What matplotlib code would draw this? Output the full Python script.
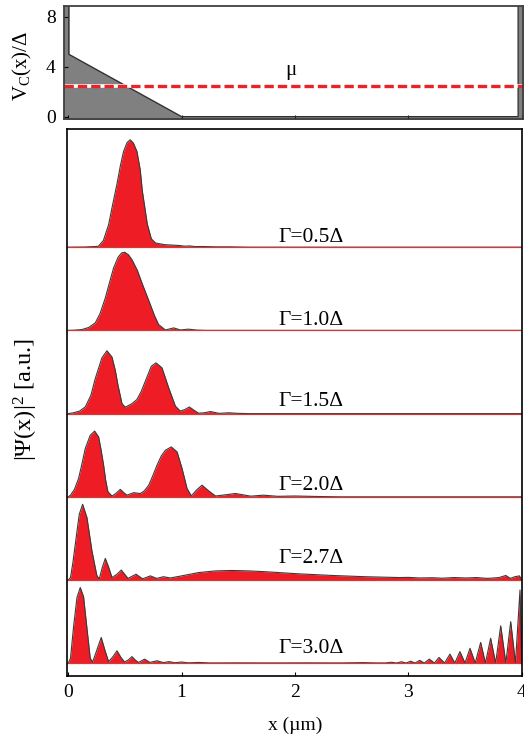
import numpy as np
import matplotlib
matplotlib.use('Agg')
import matplotlib.pyplot as plt

plt.rcParams['font.family'] = ['Liberation Serif', 'DejaVu Serif']
plt.rcParams['mathtext.fontset'] = 'custom'
plt.rcParams['mathtext.rm'] = 'Liberation Serif'
plt.rcParams['mathtext.it'] = 'Liberation Serif:italic'

# confinement potential V_C(x)/Delta
pot_x = [-0.05, 0.005, 0.005, 1.0, 3.97, 3.97, 4.05]
pot_v = [9.5, 9.5, 5.0, 0.0, 0.0, 9.5, 9.5]
mu = 2.5

# |Psi(x)|^2 profiles, one per Gamma (read by eye)
x_g05 = [0, 0.15, 0.265, 0.31, 0.356, 0.39, 0.43, 0.46, 0.488, 0.52, 0.547, 0.575, 0.606,
         0.635, 0.653, 0.697, 0.733, 0.77, 0.85, 0.92, 0.98, 1.03, 1.07, 1.12, 1.19, 1.3, 1.42, 1.6, 4.0]
h_g05 = [0, 0.002, 0.01, 0.08, 0.27, 0.5, 0.76, 0.98, 1.15, 1.26, 1.29, 1.25, 1.15,
         0.93, 0.68, 0.28, 0.10, 0.05, 0.03, 0.025, 0.02, 0.012, 0.015, 0.007, 0.008, 0.004, 0.004, 0, 0]

x_g10 = [0, 0.05, 0.12, 0.18, 0.238, 0.28, 0.327, 0.365, 0.40, 0.44, 0.47, 0.497, 0.53, 0.562,
         0.61, 0.65, 0.69, 0.724, 0.76, 0.797, 0.857, 0.93, 0.99, 1.06, 1.13, 1.21, 4.0]
h_g10 = [0, 0.002, 0.01, 0.035, 0.09, 0.2, 0.39, 0.58, 0.75, 0.88, 0.93, 0.94, 0.91, 0.85,
         0.72, 0.57, 0.43, 0.31, 0.18, 0.07, 0.005, 0.03, 0.005, 0.015, 0.004, 0, 0]

x_g15 = [0, 0.047, 0.10, 0.15, 0.2, 0.238, 0.297, 0.341, 0.386, 0.415, 0.439, 0.474, 0.503,
         0.562, 0.606, 0.645, 0.68, 0.733, 0.774, 0.827, 0.886, 0.945, 0.989, 1.03, 1.068,
         1.11, 1.15, 1.2, 1.254, 1.33, 1.415, 1.5, 1.6, 4.0]
h_g15 = [0, 0.01, 0.03, 0.08, 0.22, 0.42, 0.67, 0.755, 0.68, 0.52, 0.34, 0.12, 0.077,
         0.12, 0.17, 0.27, 0.39, 0.57, 0.61, 0.55, 0.31, 0.09, 0.03, 0.05, 0.08,
         0.04, 0.005, 0.01, 0.025, 0.003, 0.01, 0.003, 0, 0]

x_g20 = [0, 0.02, 0.055, 0.091, 0.12, 0.15, 0.194, 0.233, 0.268, 0.29, 0.312, 0.33, 0.35,
         0.386, 0.42, 0.459, 0.49, 0.518, 0.577, 0.636, 0.67, 0.71, 0.745, 0.783, 0.82,
         0.857, 0.909, 0.96, 1.004, 1.048, 1.086, 1.13, 1.18, 1.24, 1.30, 1.39, 1.475,
         1.61, 1.72, 1.85, 2.0, 2.2, 2.4, 4.0]
h_g20 = [0, 0.02, 0.09, 0.22, 0.39, 0.58, 0.74, 0.79, 0.72, 0.56, 0.38, 0.2, 0.06,
         0.01, 0.04, 0.09, 0.05, 0.02, 0.05, 0.04, 0.07, 0.14, 0.25, 0.38, 0.49,
         0.56, 0.60, 0.54, 0.34, 0.10, 0.01, 0.08, 0.14, 0.07, 0.01, 0.025, 0.04,
         0.008, 0.02, 0.006, 0.01, 0.004, 0, 0]

x_g27 = [0, 0.02, 0.04, 0.062, 0.097, 0.127, 0.165, 0.209, 0.253, 0.274, 0.30, 0.327, 0.355,
         0.386, 0.43, 0.468, 0.527, 0.598, 0.656, 0.724, 0.78, 0.84, 0.9, 1.0, 1.15, 1.30,
         1.445, 1.59, 1.74, 2.03, 2.33, 2.62, 2.92, 3.0, 3.1, 3.21, 3.3, 3.4, 3.51, 3.6,
         3.7, 3.8, 3.86, 3.90, 3.94, 3.98, 4.0]
h_g27 = [0, 0.03, 0.2, 0.43, 0.79, 0.91, 0.75, 0.35, 0.05, 0.015, 0.15, 0.26, 0.16,
         0.03, 0.07, 0.12, 0.02, 0.07, 0.015, 0.05, 0.02, 0.04, 0.025, 0.05, 0.09, 0.11,
         0.115, 0.11, 0.10, 0.075, 0.055, 0.04, 0.03, 0.032, 0.025, 0.028, 0.022, 0.03, 0.025, 0.03,
         0.02, 0.03, 0.055, 0.02, 0.04, 0.05, 0.0]

x_g30 = [0, 0.02, 0.047, 0.077, 0.106, 0.135, 0.165, 0.194, 0.215, 0.25, 0.291, 0.325, 0.356,
         0.395, 0.43, 0.465, 0.497, 0.53, 0.562, 0.59, 0.62, 0.674, 0.72, 0.783, 0.84, 0.89,
         0.94, 1.0, 1.06, 1.15, 1.25, 1.5, 1.8, 2.1, 2.4, 2.6, 2.72, 2.8,
         2.85, 2.895, 2.94, 2.98, 3.02, 3.06, 3.10, 3.14, 3.185, 3.23, 3.27, 3.32,
         3.367, 3.41, 3.455, 3.50, 3.544, 3.59, 3.638, 3.68, 3.726, 3.77, 3.815, 3.86,
         3.903, 3.945, 3.985, 4.0]
h_g30 = [0, 0.06, 0.44, 0.79, 0.91, 0.80, 0.42, 0.06, 0.015, 0.15, 0.31, 0.15, 0.02,
         0.08, 0.15, 0.07, 0.015, 0.04, 0.08, 0.04, 0.01, 0.05, 0.01, 0.03, 0.008, 0.02,
         0.006, 0.015, 0.005, 0.01, 0.004, 0.005, 0.004, 0.005, 0.004, 0.008, 0.004, 0.004,
         0.012, 0.003, 0.018, 0.003, 0.025, 0.003, 0.035, 0.003, 0.05, 0.003, 0.07, 0.003,
         0.11, 0.003, 0.14, 0.003, 0.18, 0.003, 0.25, 0.003, 0.30, 0.003, 0.45, 0.003,
         0.50, 0.003, 0.88, 0.0]

gamma_labels = ['0.5', '1.0', '1.5', '2.0', '2.7', '3.0']
profiles = [(x_g05, h_g05), (x_g10, h_g10), (x_g15, h_g15),
            (x_g20, h_g20), (x_g27, h_g27), (x_g30, h_g30)]
label_dy = [0.06, 0.064, 0.09, 0.08, 0.2, 0.124]

red = '#ee1d25'

fig = plt.figure(figsize=(5.24, 7.38), dpi=100)

# ---- top panel: potential
ax1 = fig.add_axes([64 / 524, 1 - 119.3 / 738, 458.7 / 524, 113.6 / 738])
ax1.fill_between(pot_x, -0.5, pot_v, color='#808080', lw=0)
ax1.plot(pot_x, pot_v, color='#303030', lw=1.0)
ax1.axhline(mu, color='white', lw=2.6)
ax1.axhline(mu, color='#e8242a', lw=2.4, dashes=(2.8, 1.2))
ax1.text(1.96, 3.7, 'μ', fontsize=15, ha='center', va='center')
ax1.set_xlim(-0.038, 4.01)
ax1.set_ylim(-0.21, 8.9)
ax1.set_yticks([0, 4, 8])
ax1.set_xticks([0, 1, 2, 3, 4])
ax1.tick_params(axis='x', direction='in', length=3, labelbottom=False)
ax1.tick_params(axis='y', direction='in', length=3, labelsize=14, pad=6)
for s in ax1.spines.values():
    s.set_linewidth(1.3)
    s.set_color('#404040')

# ---- bottom panel: densities, stacked
ax2 = fig.add_axes([67 / 524, 1 - 676 / 738, 454.7 / 524, 547 / 738])
for k, (lab, (xs, hs)) in enumerate(zip(gamma_labels, profiles)):
    off = 5 - k
    xs = np.array(xs)
    hs = np.array(hs)
    ax2.fill_between(xs, off, off + hs, color=red, lw=0)
    ax2.plot(xs, off + hs, color='#3a3a3a', lw=0.8)
    ax2.axhline(off, color='#d23a3a', lw=0.9)
    ax2.text(1.85, off + label_dy[k], 'Γ=' + lab + 'Δ', fontsize=15.5, va='baseline')

ax2.set_xlim(-0.011, 4.0)
ax2.set_ylim(-0.153, 6.42)
ax2.set_xticks([0, 1, 2, 3, 4])
ax2.set_yticks([])
ax2.tick_params(axis='x', direction='in', length=3, labelsize=14, pad=6)
for s in ax2.spines.values():
    s.set_linewidth(1.2)

fig.text(22 / 524, 1 - 66 / 738, 'V$_\\mathrm{C}$(x)/Δ', rotation=90,
         ha='center', va='center', fontsize=15)
fig.text(26 / 524, 1 - 400 / 738, '|Ψ(x)|$^\\mathrm{2}$ [a.u.]', rotation=90,
         ha='center', va='center', fontsize=17.5)
fig.text(295 / 524, 1 - 725 / 738, 'x (µm)', ha='center', va='center', fontsize=14)

fig.savefig('out.png', dpi=100)
